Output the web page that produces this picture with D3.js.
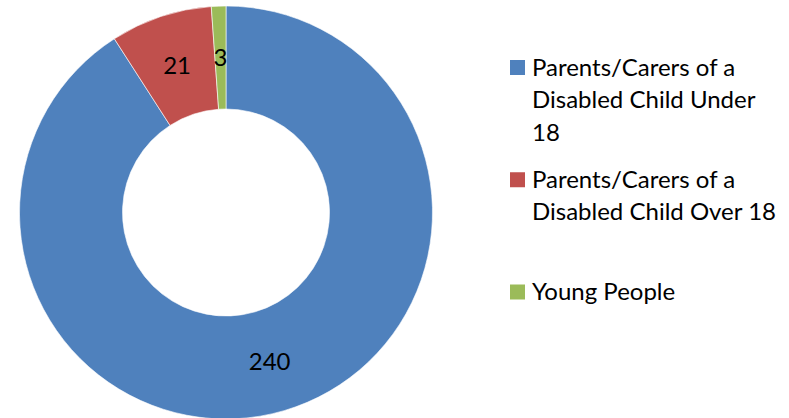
<!DOCTYPE html>
<html>
<head>
<meta charset="utf-8">
<script src="https://cdn.jsdelivr.net/npm/d3@7"></script>
<style>
  body { margin: 0; background: #fff; }
  text { font-family: Lato, "Open Sans", sans-serif; }
</style>
</head>
<body>
<div id="chart"></div>
<script>
// width and height
var chart_width = 789;
var chart_height = 418;

// data
var categories = ["Parents/Carers of a Disabled Child Under 18",
                  "Parents/Carers of a Disabled Child Over 18",
                  "Young People"];
var values = [240, 21, 3];
var colors = ["#4F81BD", "#C0504D", "#9BBB59"];

var cx = 226, cy = 212.5;
var outer_r = 206.5, inner_r = 103.5;

var svg = d3.select("#chart")
            .append("svg")
            .attr("width", chart_width)
            .attr("height", chart_height);

var pie = d3.pie().sort(null).value(function(d) { return d.value; });
var arc = d3.arc().innerRadius(inner_r).outerRadius(outer_r);
var label_arc = d3.arc().innerRadius((inner_r + outer_r) / 2).outerRadius((inner_r + outer_r) / 2);

var slices = pie(categories.map(function(c, i) {
    return { name: c, value: values[i], color: colors[i] };
}));

var donut = svg.append("g")
               .attr("transform", "translate(" + cx + "," + cy + ")");

donut.selectAll("path")
     .data(slices)
     .enter()
     .append("path")
     .attr("d", arc)
     .attr("fill", function(d) { return d.data.color; })
     .attr("stroke", "#fff")
     .attr("stroke-width", 0.6);

donut.selectAll("text")
     .data(slices)
     .enter()
     .append("text")
     .attr("x", function(d) { return label_arc.centroid(d)[0]; })
     .attr("y", function(d) { return label_arc.centroid(d)[1]; })
     .attr("dy", "0.35em")
     .attr("text-anchor", "middle")
     .style("font-size", "24px")
     .attr("fill", "#000")
     .text(function(d) { return d.data.value; });

// legend
var legend_x = 510, text_x = 532;
var max_w = 248, line_h = 32.5;
var slot_top = 100, slot_h = 96;

categories.forEach(function(c, i) {
    var g = svg.append("g");
    var t = g.append("text")
             .attr("x", text_x)
             .style("font-size", "24px")
             .attr("fill", "#000");
    // simple word wrap
    var words = c.split(" ");
    var lines = [];
    var line = [];
    var probe = t.append("tspan").attr("x", text_x);
    words.forEach(function(w) {
        line.push(w);
        probe.text(line.join(" "));
        if (probe.node().getComputedTextLength() > max_w && line.length > 1) {
            line.pop();
            lines.push(line.join(" "));
            line = [w];
        }
    });
    lines.push(line.join(" "));
    probe.remove();

    var center = slot_top + i * slot_h;
    var first_base = center - (lines.length - 1) * line_h / 2 + 8;
    lines.forEach(function(l, j) {
        t.append("tspan")
         .attr("x", text_x)
         .attr("y", first_base + j * line_h)
         .text(l);
    });
    g.append("rect")
     .attr("x", legend_x)
     .attr("y", first_base - 15.5)
     .attr("width", 15)
     .attr("height", 15)
     .attr("fill", colors[i]);
});
</script>
</body>
</html>
